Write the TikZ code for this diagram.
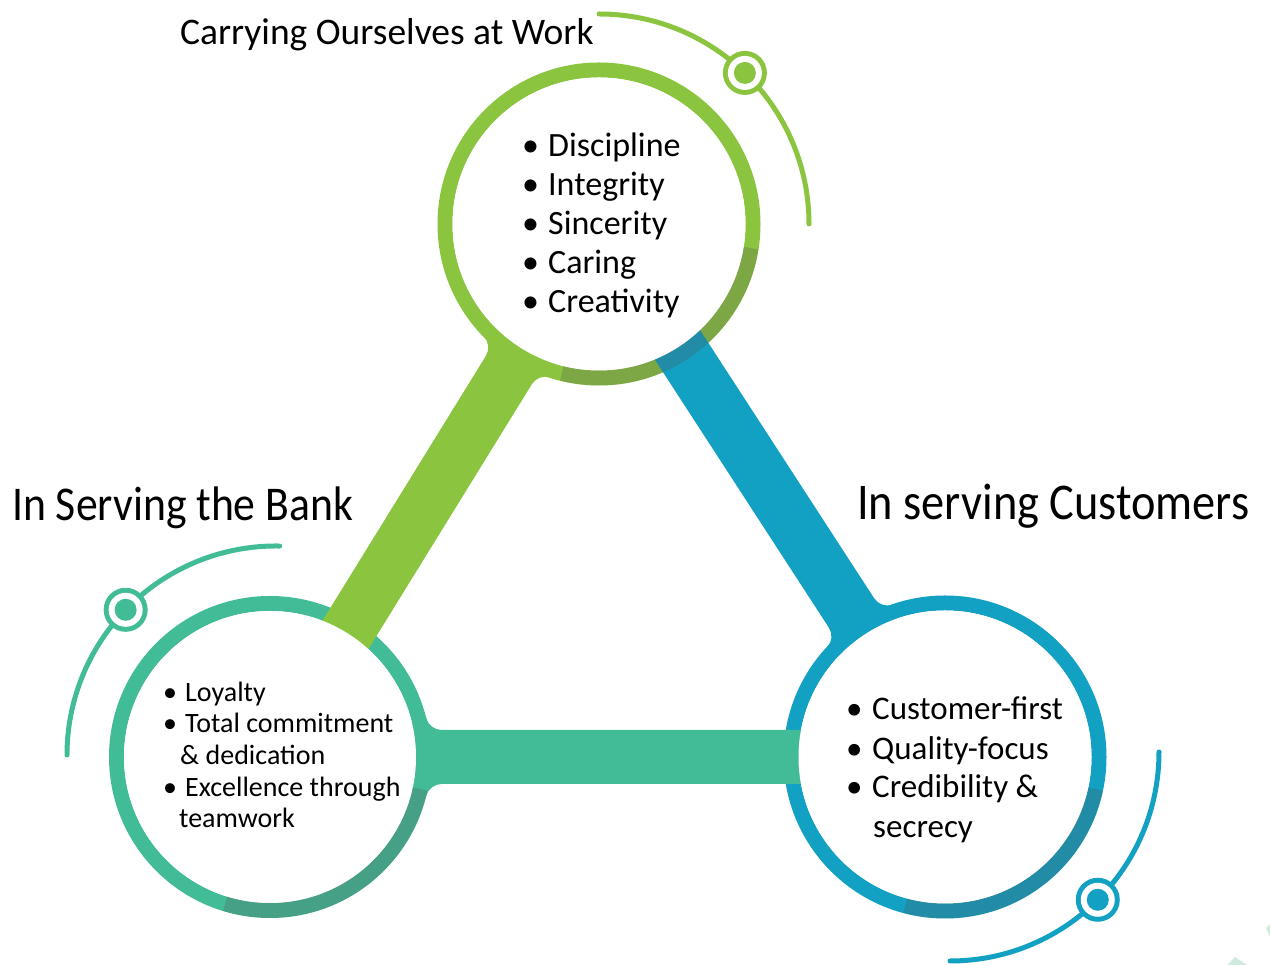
\documentclass[tikz,border=0pt]{standalone}
\usepackage{fontspec}
\setmainfont{Carlito}
\newfontfamily\narrowfont[FakeStretch=0.9]{Carlito}
\definecolor{cgreen}{HTML}{8BC540}
\definecolor{cteal}{HTML}{42BC97}
\definecolor{cblue}{HTML}{13A1C3}
\definecolor{cshade}{HTML}{505050}
\definecolor{cfaint}{HTML}{CFEBDD}
\newcommand\flarebar[4]{%
  \fill[#4, shift={(#1)}, rotate=#2] (#3,27) -- (171.7,27)
    arc[start angle=-90, end angle=-165.94, radius=16pt] -- (0,0) -- (156.2,-39.1)
    arc[start angle=165.94, end angle=90, radius=16pt] -- (#3,-27) -- cycle;}
\tikzset{
  ringline/.style={line width=15pt},
  shadeline/.style={line width=15pt, cshade, opacity=0.25},
  decoline/.style={line width=5pt, line cap=round},
  ttl/.style={anchor=base west, inner sep=0pt},
  li/.style={anchor=base west, inner sep=0pt},
}
\begin{document}
\begin{tikzpicture}[x=1pt,y=1pt]
\useasboundingbox (0,0) rectangle (1270,965);
\coordinate (T) at (599,741);
\coordinate (L) at (270,208);
\coordinate (R) at (945,208);
\coordinate (Lc) at (276,210);
\coordinate (Rc) at (950,213);

% faint corner shapes
\fill[cfaint] (1227,0) -- (1235,8) -- (1247,0) -- cycle;
\fill[cfaint] (1266,37) -- (1270,41) -- (1270,28) -- cycle;

% decorative arcs with markers
\draw[decoline, cgreen] ([shift={(90:210pt)}]T) arc[start angle=90, end angle=0, radius=210pt];
\draw[decoline, cteal] ([shift={(89:209pt)}]Lc) arc[start angle=89, end angle=180, radius=209pt];
\draw[decoline, cblue] ([shift={(0:209pt)}]Rc) arc[start angle=0, end angle=-90, radius=209pt];
\coordinate (m1) at ([shift={(46:210pt)}]T);
\coordinate (m2) at ([shift={(136:209pt)}]Lc);
\coordinate (m3) at ([shift={(-45:209pt)}]Rc);
\foreach \m/\c in {m1/cgreen, m2/cteal, m3/cblue}{
  \fill[\c] (\m) circle[radius=22pt];
  \fill[white] (\m) circle[radius=17pt];
  \fill[\c] (\m) circle[radius=11pt];
}

% rings
\draw[ringline, cgreen] (T) circle[radius=154pt];
\draw[ringline, cteal] (L) circle[radius=153.5pt];
\draw[ringline, cblue] (R) circle[radius=154pt];

% connecting bars
\flarebar{T}{238.32}{626.4}{cgreen}
\flarebar{R}{122.99}{635.5}{cblue}
\flarebar{L}{0}{675}{cteal}

% white interiors
\fill[white] (T) circle[radius=146.5pt];
\fill[white] (L) circle[radius=146pt];
\fill[white] (R) circle[radius=146.5pt];

% shaded ring parts
\draw[shadeline] ([shift={(-104:154pt)}]T) arc[start angle=-104, end angle=-9, radius=154pt];
\draw[shadeline] ([shift={(-107:153.5pt)}]L) arc[start angle=-107, end angle=-12, radius=153.5pt];
\draw[shadeline] ([shift={(-105:154pt)}]R) arc[start angle=-105, end angle=-12, radius=154pt];

% titles
\node[ttl, font=\fontsize{37.5}{40}\selectfont] (t1) at (180,920) {Carrying Ourselves at Work};
\node[ttl, font=\narrowfont\fontsize{48.5}{52}\selectfont] (t2) at (12,444) {In Serving the Bank};
\node[ttl, font=\narrowfont\fontsize{51.5}{55}\selectfont] (t3) at (857,445) {In serving Customers};

% top list
\begin{scope}[every node/.style={li, font=\fontsize{34}{39}\selectfont}]
\node (a1) at (522,808) {\makebox[26pt][l]{•}Discipline};
\node (a2) at (522,769) {\makebox[26pt][l]{•}Integrity};
\node (a3) at (522,730) {\makebox[26pt][l]{•}Sincerity};
\node (a4) at (522,691) {\makebox[26pt][l]{•}Caring};
\node (a5) at (522,652) {\makebox[26pt][l]{•}Creativity};
\end{scope}

% left list
\begin{scope}[every node/.style={li, font=\fontsize{28}{32}\selectfont}]
\node (b1) at (163,263) {\makebox[22pt][l]{•}Loyalty};
\node (b2) at (163,232) {\makebox[22pt][l]{•}Total commitment};
\node (b3) at (180,200) {\& dedication};
\node (b4) at (163,168) {\makebox[22pt][l]{•}Excellence through};
\node (b5) at (179,137) {teamwork};
\end{scope}

% right list
\begin{scope}[every node/.style={li, font=\fontsize{33}{39}\selectfont}]
\node (c1) at (846,245) {\makebox[26pt][l]{•}Customer-first};
\node (c2) at (846,205) {\makebox[26pt][l]{•}Quality-focus};
\node (c3) at (846,167) {\makebox[26pt][l]{•}Credibility \&};
\node (c4) at (873,127) {secrecy};
\end{scope}
\end{tikzpicture}
\end{document}
